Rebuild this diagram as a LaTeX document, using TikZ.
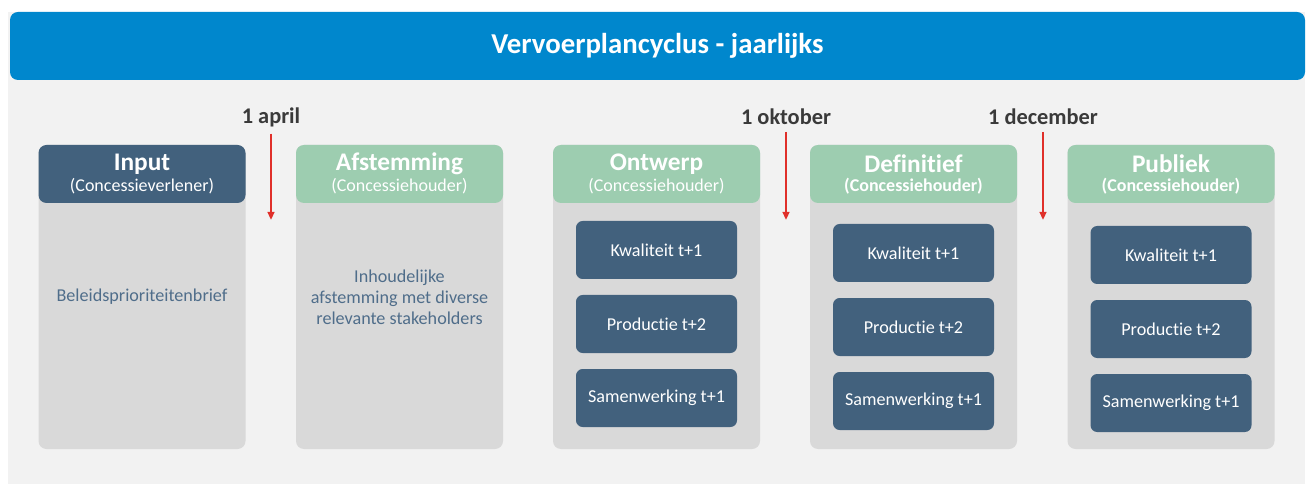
\documentclass[tikz,border=0pt]{standalone}
\usepackage{fontspec}
\setmainfont{Carlito}[Ligatures=NoCommon]
\usetikzlibrary{arrows.meta}

\definecolor{bannerblue}{HTML}{0087CD}
\definecolor{panelgrey}{HTML}{F2F2F2}
\definecolor{colgrey}{HTML}{D9D9D9}
\definecolor{darkblue}{HTML}{42617D}
\definecolor{softgreen}{HTML}{9DCDB0}
\definecolor{bodyblue}{HTML}{4F6D8A}
\definecolor{datered}{HTML}{E0302A}
\definecolor{dategrey}{HTML}{3A3A3A}

\begin{document}
\begin{tikzpicture}[ x=0.75pt, y=-0.75pt, >={Triangle[width=5pt,length=6pt]},
        banner/.style={ fill=bannerblue, rounded corners=6pt, minimum width=971.25pt,
          minimum height=51pt, inner sep=0pt },
        colbody/.style={ fill=colgrey, rounded corners=6pt, minimum width=155.25pt,
          minimum height=228pt, inner sep=0pt },
        colhead/.style={ rounded corners=6pt, minimum width=155.25pt,
          minimum height=43.5pt, inner sep=0pt },
        headtitle/.style={ text=white, font=\fontsize{19}{22}\selectfont\bfseries },
        headsub/.style={ text=white, font=\fontsize{13.5}{16}\selectfont },
        item/.style={ fill=darkblue, rounded corners=5pt, minimum width=120.75pt,
          minimum height=43.5pt, inner sep=0pt, text=white,
          font=\fontsize{13.6}{16}\selectfont },
        bodytext/.style={ text=bodyblue, align=center,
          font=\fontsize{13.6}{15.75}\selectfont },
        datelabel/.style={ text=dategrey, inner sep=2pt,
          font=\fontsize{16.8}{19}\selectfont\bfseries },
        datearrow/.style={ ->, datered, line width=1.5pt, shorten <=3pt } ]
        \useasboundingbox[fill=white] (0,0) rectangle (1308,484);
        \fill[panelgrey] (8,12) rectangle (1305,484);

        \node[banner] (top) at (657.5,46) {};
        \node[text=white, font=\fontsize{21.6}{25}\selectfont\bfseries] (title)
        at (top) {Vervoerplancyclus - jaarlijks};

        % columns
        \foreach \x/\n in {142/1,399.5/2,656.5/3,913.5/4,1171/5}
        \node[colbody] (c\n) at (\x,297) {};

        \foreach \x/\n/\c/\t/\s in {142/1/darkblue/Input/(Concessieverlener),
          399.5/2/softgreen/Afstemming/(Concessiehouder),
          656.5/3/softgreen/Ontwerp/(Concessiehouder),
          913.5/4/softgreen/Definitief/\textbf{(Concessiehouder)},
          1171/5/softgreen/Publiek/\textbf{(Concessiehouder)}} {
          \node[colhead,fill=\c] (h\n) at (\x,174) {};
          \node[headtitle] (t\n) at (\x,164) {\t};
          \node[headsub] (s\n) at (\x,186) {\s};
        }

        \node[bodytext] (b1) at (c1) {Beleidsprioriteitenbrief};
        \node[bodytext] (b2) at (c2) {Inhoudelijke\\afstemming met
          diverse\\relevante stakeholders};

        \foreach \x/\n/\y in {656.5/3/250,913.5/4/253,1171/5/255} {
          \node[item] (k\n) at (\x,\y) {Kwaliteit t+1};
          \node[item] (p\n) at (\x,\y+74) {Productie t+2};
          \node[item] (w\n) at (\x,\y+148) {Samenwerking t+1};
        }

        % dates
        \foreach \x/\n/\l in {271/1/1 april,786/2/1 oktober,1043/3/1 december} {
          \node[datelabel] (d\n) at (\x,117) {\l};
          \coordinate (e\n) at (\x,220);
          \draw[datearrow] (d\n) -- (e\n);
        }
      \end{tikzpicture}
\end{document}
